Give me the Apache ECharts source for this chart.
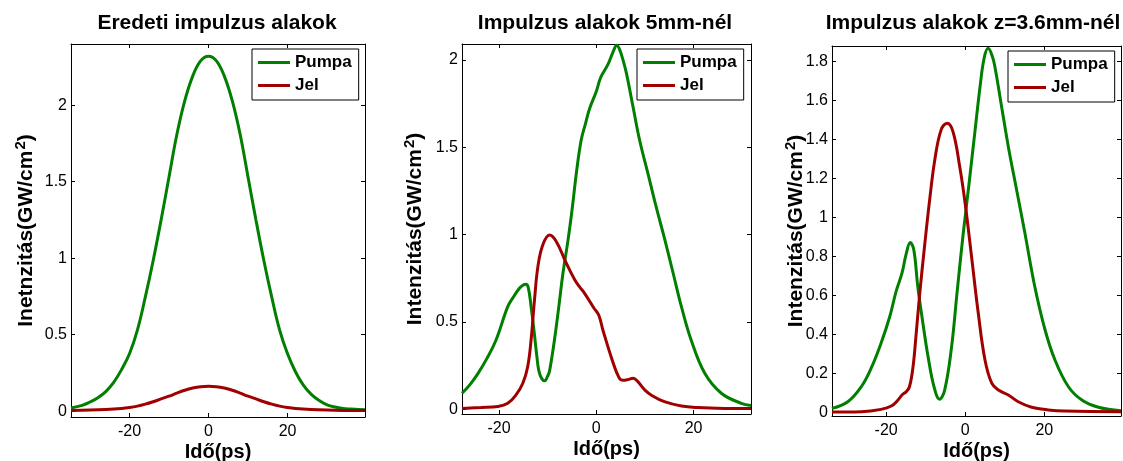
<!DOCTYPE html>
<html>
<head>
<meta charset="utf-8">
<title>Impulzus alakok</title>
<script src="https://cdn.jsdelivr.net/npm/echarts@6/dist/echarts.min.js"></script>
<style>
  html, body { margin: 0; padding: 0; background: #fff; }
  #chart { width: 1123px; height: 461px; }
</style>
</head>
<body>
<div id="chart"></div>
<script>
// ---- Panel 1: eredeti impulzusok (t in ps, I in GW/cm^2) ----
const p1PumpaT = [-34.8, -32, -30, -28, -26, -24, -22, -20, -18, -16, -14, -12, -10, -8, -6, -4, -2, 0,
                  2, 4, 6, 8, 10, 12, 14, 16, 18, 20, 22, 24, 26, 28, 30, 32, 34, 36, 38, 39.6];
const p1PumpaI = [0.021, 0.038, 0.06, 0.088, 0.128, 0.188, 0.272, 0.375, 0.53, 0.745, 0.985, 1.25, 1.53, 1.81, 2.03, 2.19, 2.29, 2.32,
                  2.29, 2.19, 2.03, 1.81, 1.53, 1.25, 0.985, 0.745, 0.53, 0.375, 0.258, 0.17, 0.11, 0.07, 0.042, 0.027, 0.018, 0.014, 0.011, 0.01];
const p1JelT = [-34.8, -30, -26, -22, -20, -18, -16, -14, -12, -10, -8, -6, -4, -2, 0,
                2, 4, 6, 8, 10, 12, 14, 16, 18, 20, 22, 26, 30, 34, 39.6];
const p1JelI = [0.005, 0.007, 0.011, 0.018, 0.024, 0.033, 0.046, 0.062, 0.08, 0.098, 0.118, 0.137, 0.151, 0.16, 0.163,
                0.16, 0.151, 0.137, 0.118, 0.098, 0.08, 0.062, 0.046, 0.033, 0.024, 0.018, 0.011, 0.007, 0.005, 0.004];

// ---- Panel 2: 5 mm után ----
const p2PumpaT = [-27.6, -26, -24.3, -22.5, -20.6, -18.2, -17.1, -15.8, -15.0, -14.5, -14.0, -13.4, -12.8, -12.2, -11.8, -11.2, -10.6,
                  -10.0, -9.6, -8.6, -7.7, -6.85, -5.8, -4.9, -4.1, -3.1, -2.2, -1.4, 0, 0.9, 2.4, 3.5, 4.2, 4.8, 5.5, 6.2,
                  7.55, 8.9, 10.6, 12.3, 14.1, 15.8, 17.5, 19.5, 22.3, 25.7, 29.8, 31.8];
const p2PumpaI = [0.092, 0.14, 0.206, 0.29, 0.397, 0.588, 0.64, 0.693, 0.712, 0.716, 0.70, 0.588, 0.45, 0.30, 0.22, 0.175, 0.163,
                  0.19, 0.22, 0.397, 0.588, 0.779, 0.97, 1.16, 1.352, 1.542, 1.638, 1.72, 1.82, 1.9, 1.975, 2.05, 2.085, 2.06, 2.0, 1.924,
                  1.733, 1.542, 1.352, 1.16, 0.97, 0.779, 0.588, 0.397, 0.206, 0.092, 0.034, 0.022];
const p2JelT = [-27.6, -23.7, -20.2, -18.2, -16.5, -15.1, -14.1, -13.4, -12.7, -12.0, -11.0, -9.6, -8.2, -6.3, -4.4, -3.4, -2.4,
                -0.5, 0.5, 1.4, 3.3, 4.7, 5.5, 6.5, 7.6, 8.5, 10, 11.5, 14, 17.5, 20.9, 26.4, 31.8];
const p2JelI = [0.005, 0.01, 0.016, 0.034, 0.082, 0.149, 0.244, 0.397, 0.626, 0.817, 0.941, 0.998, 0.96, 0.845, 0.74, 0.70, 0.664,
                0.58, 0.54, 0.45, 0.28, 0.18, 0.166, 0.17, 0.178, 0.16, 0.11, 0.078, 0.044, 0.019, 0.01, 0.005, 0.004];

// ---- Panel 3: z = 3.6 mm ----
const p3PumpaT = [-33.7, -29.7, -26.3, -23.8, -21.3, -19.1, -17.5, -16.0, -14.9, -13.9, -13.0, -12.0, -10.7, -9.4, -7.9, -6.5,
                  -5.2, -3.5, -2.0, -0.5, 1.0, 2.5, 3.8, 4.8, 5.8, 6.8, 7.5, 9.2, 10.9, 13.0, 15.1, 17.6, 20.2, 22.7, 26.1, 29.5, 33.7, 39.4];
const p3PumpaI = [0.022, 0.056, 0.133, 0.228, 0.356, 0.492, 0.621, 0.715, 0.817, 0.872, 0.834, 0.646, 0.458, 0.287, 0.133, 0.069,
                  0.116, 0.33, 0.63, 0.92, 1.18, 1.45, 1.68, 1.82, 1.868, 1.83, 1.774, 1.569, 1.364, 1.142, 0.92, 0.646, 0.424, 0.27, 0.133, 0.065, 0.028, 0.01];
const p3JelT = [-33.7, -26.3, -21.3, -18.7, -17.0, -16.0, -14.9, -14.1, -13.2, -12.4, -11.5, -10.3, -9.0, -7.7, -6.1, -4.6, -3.1,
                -1.4, 0, 1.6, 3.3, 5.0, 6.7, 8.4, 10.9, 13.4, 16.8, 21.0, 25.2, 39.4];
const p3JelI = [0.003, 0.005, 0.017, 0.034, 0.065, 0.091, 0.108, 0.133, 0.236, 0.407, 0.612, 0.851, 1.091, 1.296, 1.45, 1.484, 1.441,
                1.262, 1.07, 0.80, 0.51, 0.27, 0.151, 0.116, 0.091, 0.056, 0.028, 0.014, 0.008, 0.005];

// ---- Tick values ----
const xTicks = [-20, 0, 20];
const yTicksA = [0, 0.5, 1, 1.5, 2];
const yTicksB = [0, 0.2, 0.4, 0.6, 0.8, 1, 1.2, 1.4, 1.6, 1.8];

// ---- Texts ----
const titles = ['Eredeti impulzus alakok', 'Impulzus alakok 5mm-nél', 'Impulzus alakok z=3.6mm-nél'];
const yNames = ['Inetnzitás(GW/cm', 'Intenzitás(GW/cm', 'Intenzitás(GW/cm'];
const xName = 'Idő(ps)';
const seriesNames = ['Pumpa', 'Jel'];

const FONT = '"Liberation Sans", Arial, Helvetica, sans-serif';
const GREEN = '#007f00';
const RED = '#a00000';

const zip = (t, v) => t.map((x, i) => [x, v[i]]);

// Layout of the three axes boxes
const panels = [
  { grid: { left: 71, top: 44, width: 294, height: 373 }, x: [-34.8, 39.6], y: [-0.038, 2.40], yTicks: yTicksA,
    titleX: 217, legend: { left: 252, top: 49 }, nameGap: 34,
    pumpa: zip(p1PumpaT, p1PumpaI), jel: zip(p1JelT, p1JelI) },
  { grid: { left: 462, top: 44, width: 289, height: 370 }, x: [-27.6, 31.8], y: [-0.027, 2.092], yTicks: yTicksA,
    titleX: 605, legend: { left: 637, top: 49 }, nameGap: 36,
    pumpa: zip(p2PumpaT, p2PumpaI), jel: zip(p2JelT, p2JelI) },
  { grid: { left: 832, top: 46, width: 289, height: 370 }, x: [-33.7, 39.4], y: [-0.017, 1.88], yTicks: yTicksB,
    titleX: 973, legend: { left: 1008, top: 51 }, nameGap: 25,
    pumpa: zip(p3PumpaT, p3PumpaI), jel: zip(p3JelT, p3JelI) }
];

const option = {
  backgroundColor: '#fff',
  animation: false,
  textStyle: { fontFamily: FONT },
  title: [], grid: [], xAxis: [], yAxis: [], legend: [], series: []
};

const tickStyle = { show: true, inside: true, length: 4, lineStyle: { color: '#000', width: 1 } };
const lineStyle = { show: true, onZero: false, lineStyle: { color: '#000', width: 1 } };

panels.forEach((p, i) => {
  const g = p.grid;
  option.grid.push({
    left: g.left, top: g.top, width: g.width, height: g.height,
    containLabel: false, outerBoundsMode: 'none'
  });
  option.title.push({
    text: titles[i], left: p.titleX, top: 13, textAlign: 'center', padding: 0,
    textStyle: { fontFamily: FONT, fontSize: 21, fontWeight: 'bold', color: '#000' }
  });
  // bottom x axis
  option.xAxis.push({
    type: 'value', gridIndex: i, position: 'bottom', min: p.x[0], max: p.x[1],
    axisLine: lineStyle, splitLine: { show: false },
    axisTick: Object.assign({ customValues: xTicks }, tickStyle),
    axisLabel: { customValues: xTicks, color: '#000', fontFamily: FONT, fontSize: 16, margin: 7 },
    name: xName, nameLocation: 'middle', nameGap: 25, nameMoveOverlap: false,
    nameTextStyle: { fontFamily: FONT, fontSize: 20, fontWeight: 'bold', color: '#000' }
  });
  // top x axis (tick mirror)
  option.xAxis.push({
    type: 'value', gridIndex: i, position: 'top', min: p.x[0], max: p.x[1],
    axisLine: lineStyle, splitLine: { show: false },
    axisTick: Object.assign({ customValues: xTicks }, tickStyle),
    axisLabel: { show: false, customValues: xTicks }
  });
  // left y axis
  option.yAxis.push({
    type: 'value', gridIndex: i, position: 'left', min: p.y[0], max: p.y[1],
    axisLine: lineStyle, splitLine: { show: false },
    axisTick: Object.assign({ customValues: p.yTicks }, tickStyle),
    axisLabel: { customValues: p.yTicks, color: '#000', fontFamily: FONT, fontSize: 16, margin: 4 },
    name: '{m|' + yNames[i] + '}{s|2}{m|)}', nameLocation: 'middle', nameRotate: 90,
    nameGap: p.nameGap, nameMoveOverlap: false,
    nameTextStyle: {
      color: '#000',
      rich: {
        m: { fontFamily: FONT, fontSize: 21, fontWeight: 'bold', color: '#000', verticalAlign: 'bottom' },
        s: { fontFamily: FONT, fontSize: 15, fontWeight: 'bold', color: '#000', verticalAlign: 'bottom', padding: [0, 0, 9, 1] }
      }
    }
  });
  // right y axis (tick mirror)
  option.yAxis.push({
    type: 'value', gridIndex: i, position: 'right', min: p.y[0], max: p.y[1],
    axisLine: lineStyle, splitLine: { show: false },
    axisTick: Object.assign({ customValues: p.yTicks }, tickStyle),
    axisLabel: { show: false, customValues: p.yTicks }
  });
  option.legend.push({
    left: p.legend.left, top: p.legend.top, orient: 'vertical',
    data: seriesNames.map(n => ({ name: n, icon: 'rect' })), selectedMode: false,
    itemWidth: 32, itemHeight: 3, itemGap: 6,
    padding: [5, 7, 6, 6],
    borderColor: '#000', borderWidth: 1, backgroundColor: '#fff',
    textStyle: { fontFamily: FONT, fontSize: 17, fontWeight: 'bold', color: '#000', lineHeight: 17 }
  });
  [['Pumpa', GREEN, p.pumpa], ['Jel', RED, p.jel]].forEach(([name, color, data]) => {
    option.series.push({
      name, type: 'line', xAxisIndex: 2 * i, yAxisIndex: 2 * i,
      data, symbol: 'none', smooth: 0.4,
      color, lineStyle: { color, width: 3 }, clip: true
    });
  });
});

const chart = echarts.init(document.getElementById('chart'), null, { renderer: 'canvas' });
chart.setOption(option);
</script>
</body>
</html>
